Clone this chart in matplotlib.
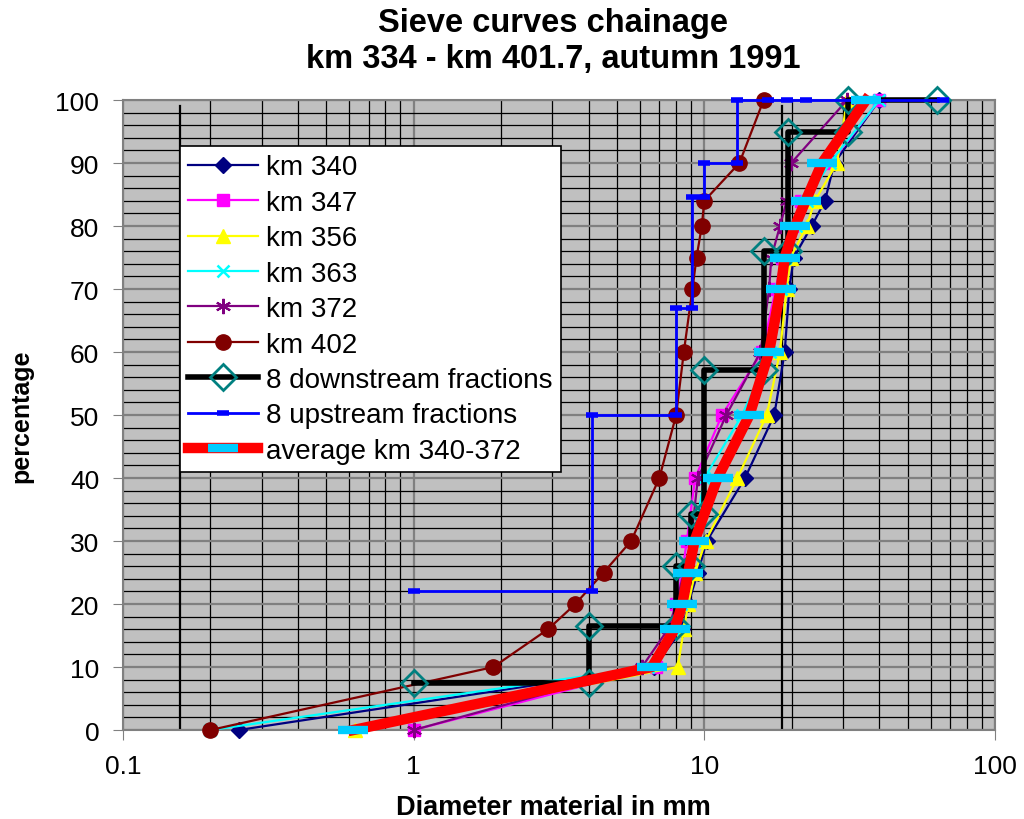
import matplotlib
matplotlib.use('Agg')
import matplotlib.pyplot as plt
from matplotlib.ticker import FixedLocator, MultipleLocator, LogLocator, NullFormatter

plt.rcParams['font.family'] = ['Liberation Sans', 'DejaVu Sans']

# percentages passing (same levels for every sieve curve)
pct = [0, 10, 16, 20, 25, 30, 40, 50, 60, 70, 75, 80, 84, 90, 100]

# diameters in mm per chainage
km340 = [0.25, 6.7, 8.4, 8.8, 9.5, 10.2, 13.8, 17.4, 18.9, 19.6, 20.3, 23.4, 26.0, 28.0, 40.0]
km347 = [1.0, 6.8, 7.6, 8.0, 8.4, 8.7, 9.3, 11.5, 15.8, 17.6, 18.5, 20.0, 21.5, 27.2, 40.0]
km356 = [0.63, 8.1, 8.5, 8.8, 9.3, 10.1, 13.0, 16.4, 18.2, 19.2, 19.8, 22.5, 24.0, 28.6, 31.0]
km363 = [0.2, 6.4, 7.8, 8.3, 8.7, 9.2, 10.0, 13.5, 16.8, 18.3, 19.0, 20.6, 22.5, 27.0, 40.0]
km372 = [1.0, 6.1, 7.5, 8.0, 8.5, 9.0, 9.5, 11.9, 15.6, 16.7, 17.0, 18.2, 19.2, 19.9, 31.0]
km402 = [0.2, 1.88, 2.9, 3.6, 4.5, 5.6, 7.0, 8.0, 8.5, 9.1, 9.4, 9.8, 10.0, 13.2, 16.0]
avg = [0.62, 6.6, 7.9, 8.4, 8.8, 9.25, 11.1, 14.3, 16.7, 18.3, 18.9, 20.5, 22.3, 25.4, 36.0]

# fraction step curves
down_d = [1, 4, 4, 8, 8, 9, 9, 10, 10, 16, 16, 19.4, 19.4, 31.3, 31.3, 63]
down_p = [7.5, 7.5, 16.5, 16.5, 26, 26, 34.3, 34.3, 57.2, 57.2, 76, 76, 95, 95, 100, 100]
up_d = [1, 4.1, 4.1, 8.0, 8.0, 9.1, 9.1, 10, 10, 13, 13, 16.6, 19.2, 22.3, 66]
up_p = [22, 22, 50, 50, 67, 67, 84.6, 84.6, 90, 90, 100, 100, 100, 100, 100]

# thin vertical reference lines
vlines_d = [0.157, 18.5]

fig = plt.figure(figsize=(10.24, 8.2), dpi=100)
ax = fig.add_axes([0.1201, 0.1085, 0.8516, 0.7683])
ax.set_facecolor('#C0C0C0')

for xv in vlines_d:
    ax.plot([xv, xv], [0, 99], color='black', lw=1.6, zorder=2)

common = dict(lw=1.6, clip_on=False, zorder=3)
ax.plot(km340, pct, color='#000080', marker='D', ms=8, label='km 340', **common)
ax.plot(km347, pct, color='#FF00FF', marker='s', ms=9, label='km 347', **common)
ax.plot(km356, pct, color='#FFFF00', marker='^', ms=10, label='km 356', **common)
ax.plot(km363, pct, color='#00FFFF', marker='x', ms=9, mew=1.8, label='km 363', **common)
ax.plot(km372, pct, color='#800080', marker=(6, 2, 0), ms=11, mew=1.5, label='km 372', **common)
ax.plot(km402, pct, color='#800000', marker='o', ms=11, label='km 402', **common)
ax.plot(down_d, down_p, color='black', lw=4, marker='D', ms=13, mfc='none', mec='#008080',
        mew=2, clip_on=False, zorder=4, label='8 downstream fractions')
ax.plot(up_d, up_p, color='#0000FF', lw=2, marker='_', ms=9, mew=4, clip_on=False,
        zorder=4, label='8 upstream fractions')
ax.plot(avg, pct, color='#FF0000', lw=7.5, marker='_', ms=22, mew=6, mec='#00CCFF',
        clip_on=False, zorder=5, label='average km 340-372')

ax.set_xscale('log')
ax.set_xlim(0.1, 100)
ax.set_ylim(0, 100)
ax.xaxis.set_major_locator(FixedLocator([0.1, 1, 10, 100]))
ax.set_xticklabels(['0.1', '1', '10', '100'])
ax.xaxis.set_minor_locator(LogLocator(base=10, subs=range(2, 10)))
ax.xaxis.set_minor_formatter(NullFormatter())
ax.yaxis.set_major_locator(MultipleLocator(10))
ax.yaxis.set_minor_locator(MultipleLocator(2))

ax.set_axisbelow(True)
ax.grid(which='minor', color='black', lw=0.9)
ax.grid(which='major', color='#808080', lw=1.6)
ax.tick_params(which='minor', length=0)
ax.tick_params(which='major', labelsize=19, length=7, color='#808080', direction='out')
ax.tick_params(axis='y', pad=10)
ax.tick_params(axis='x', pad=10)
for s in ax.spines.values():
    s.set_color('#808080')
    s.set_linewidth(1.5)

fig.text(0.54, 1 - 808 / 820, 'Diameter material in mm', fontsize=19.5, fontweight='bold',
         ha='center', va='center')
ax.set_ylabel('percentage', fontsize=18, fontweight='bold', labelpad=16)
fig.suptitle('Sieve curves chainage\nkm 334 - km 401.7, autumn 1991', fontsize=23.5,
             fontweight='bold', x=0.54, y=0.99, linespacing=1.2)

leg = ax.legend(loc='upper left', bbox_to_anchor=(0.0654, 0.927), borderaxespad=0,
                fontsize=20, handlelength=2.5, labelspacing=0.34, fancybox=False,
                framealpha=1, edgecolor='black', borderpad=0.3, handletextpad=0.3)
leg.get_frame().set_linewidth(1.2)

fig.savefig('out.png', dpi=100)
